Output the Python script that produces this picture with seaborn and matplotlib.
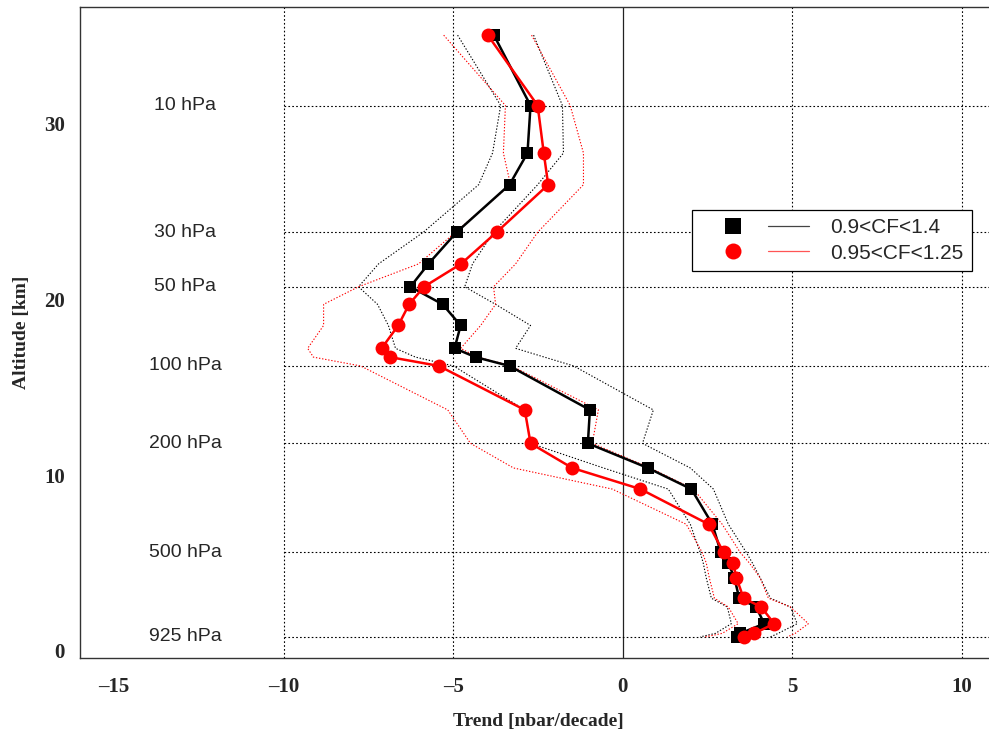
import matplotlib
matplotlib.use("Agg")
import matplotlib.pyplot as plt
import pandas as pd
import seaborn as sns
from matplotlib.lines import Line2D

# Altitude levels of the profile [km]
altitude = [35.0, 31.0, 28.3, 26.5, 23.8, 22.0, 20.7, 19.7, 18.5, 17.2, 16.7, 16.2,
            13.7, 11.8, 10.4, 9.2, 7.2, 5.6, 5.0, 4.15, 3.0, 2.5, 1.55, 1.0, 0.8]

# Trend profile and confidence envelope, 0.9<CF<1.4
trend_cf14 = [-3.80, -2.72, -2.81, -3.34, -4.90, -5.73, -6.26, -5.31, -4.78, -4.96, -4.34, -3.34,
              -0.97, -1.03, 0.74, 2.02, 2.64, 2.89, 3.11, 3.29, 3.43, 3.93, 4.17, 3.46, 3.37]
low_cf14 = [-4.87, -3.60, -3.84, -4.25, -5.88, -7.20, -7.79, -7.23, -6.91, -6.70, -6.11, -4.99,
            -2.89, -2.72, -0.57, 1.34, 1.99, 2.28, 2.37, 2.46, 2.61, 3.08, 3.20, 2.73, 2.28]
high_cf14 = [-2.63, -1.78, -1.75, -2.51, -3.81, -4.43, -4.66, -3.75, -2.72, -3.16, -2.31, -1.45,
             0.90, 0.58, 1.99, 2.67, 3.11, 3.64, 3.82, 4.05, 4.35, 4.94, 5.14, 4.58, 4.35]

# Trend profile and confidence envelope, 0.95<CF<1.25
trend_cf125 = [-3.98, -2.51, -2.33, -2.20, -3.72, -4.77, -5.86, -6.30, -6.62, -7.11, -6.86, -5.42,
               -2.89, -2.72, -1.49, 0.52, 2.53, 2.97, 3.25, 3.35, 3.56, 4.08, 4.46, 3.88, 3.58]
low_cf125 = [-5.28, -3.46, -3.52, -3.31, -4.93, -6.02, -7.79, -8.82, -8.82, -9.29, -9.12, -7.73,
             -5.16, -4.49, -3.22, -0.31, 1.87, 2.34, 2.46, 2.55, 2.70, 3.11, 3.40, 2.93, 2.43]
high_cf125 = [-2.69, -1.55, -1.16, -1.16, -2.51, -3.16, -3.81, -3.75, -4.19, -4.78, -4.28, -3.28,
              -0.72, -0.90, 0.81, 2.08, 2.93, 3.46, 3.73, 4.05, 4.29, 4.94, 5.47, 5.08, 4.85]

# Reference pressure levels
pressure_alt = [31.0, 23.8, 20.7, 16.2, 11.8, 5.6, 0.8]
pressure_lab = ["10 hPa", "30 hPa", "50 hPa", "100 hPa", "200 hPa", "500 hPa", "925 hPa"]

x_ticks = [-15, -10, -5, 0, 5, 10]
y_ticks = [0, 10, 20, 30]
grid_x = [-10, -5, 5, 10]
series_labels = ["0.9<CF<1.4", "0.95<CF<1.25"]


class MarkerThenLine:
    """Legend handle: a marker on the left, a short line segment on the right."""

    def __init__(self, marker_pos=0.30, line_start=0.63):
        self.marker_pos = marker_pos
        self.line_start = line_start

    def legend_artist(self, legend, orig_handle, fontsize, handlebox):
        mk, ln = orig_handle
        x0, y0 = -handlebox.xdescent, -handlebox.ydescent
        w, h = handlebox.width, handlebox.height
        yc = y0 + h / 2
        m = Line2D([x0 + self.marker_pos * w], [yc], ls="none", marker=mk.get_marker(),
                   ms=mk.get_markersize(), color=mk.get_color(), mew=0)
        seg = Line2D([x0 + self.line_start * w, x0 + w], [yc, yc],
                     color=ln.get_color(), lw=ln.get_linewidth())
        for a in (seg, m):
            a.set_transform(handlebox.get_transform())
            handlebox.add_artist(a)
        return m


sns.set_style("white")
plt.rcParams["font.family"] = ["Liberation Sans", "DejaVu Sans"]

df14 = pd.DataFrame({"trend": trend_cf14, "low": low_cf14, "high": high_cf14, "alt": altitude})
df125 = pd.DataFrame({"trend": trend_cf125, "low": low_cf125, "high": high_cf125, "alt": altitude})

W, H = 989, 731
fig = plt.figure(figsize=(W / 100, H / 100), dpi=100)
ax = fig.add_axes([80 / W, 1 - 658 / H, 916 / W, 651 / H])
ax.set_xlim(-16, 11)
ax.set_ylim(-0.4, 36.6)

# Vertical guides and zero line
for gx in grid_x:
    ax.axvline(gx, color="black", lw=0.8, ls=(0, (1.5, 2)), zorder=1)
ax.axvline(0, color="#222222", lw=0.9, zorder=1)

# Pressure level guides and labels
for pa, pl in zip(pressure_alt, pressure_lab):
    ax.hlines(pa, -10, 11, color="black", lw=0.8, linestyles=[(0, (1.5, 2))], zorder=1)
    ax.text(-12.9, pa, pl, ha="center", va="center", fontsize=14,
            family=["Liberation Sans", "DejaVu Sans"])

# Confidence envelopes
dot = (0, (1.2, 1.6))
for df, col in [(df14, "black"), (df125, "red")]:
    for c in ["low", "high"]:
        sns.lineplot(data=df, x=c, y="alt", sort=False, estimator=None, ax=ax,
                     color=col, lw=0.8, ls=dot, zorder=2)

# Trend profiles
sns.lineplot(data=df14, x="trend", y="alt", sort=False, estimator=None, ax=ax,
             color="black", lw=1.8, marker="s", markersize=9, markeredgewidth=0, zorder=3)
sns.lineplot(data=df125, x="trend", y="alt", sort=False, estimator=None, ax=ax,
             color="red", lw=1.8, marker="o", markersize=10, markeredgewidth=0, zorder=4)

# Axes styling
for s in ax.spines.values():
    s.set_color("#333333")
    s.set_linewidth(1.0)
ax.set_xticks(x_ticks)
ax.set_yticks(y_ticks)
ax.set_xticklabels([f"{v}".replace("-", "\u2013") for v in x_ticks])
ax.tick_params(axis="both", direction="out", length=5, width=0.9, color="#333333",
               labelsize=15)
ax.tick_params(axis="x", pad=9)
ax.tick_params(axis="y", pad=6)
for lab in ax.get_xticklabels() + ax.get_yticklabels():
    lab.set_family(["Liberation Serif", "DejaVu Serif"])
    lab.set_fontweight("bold")
ax.set_xlabel("Trend [nbar/decade]", family=["Liberation Serif"], fontweight="bold",
              fontsize=14, labelpad=11)
ax.set_ylabel("Altitude [km]", family=["Liberation Serif"], fontweight="bold",
              fontsize=14, labelpad=10)

# Legend: marker column and line column per entry
handles = [
    (Line2D([], [], marker="s", color="black", ls="none", ms=11),
     Line2D([], [], color="#444444", lw=0.9)),
    (Line2D([], [], marker="o", color="red", ls="none", ms=11.5),
     Line2D([], [], color="#ff5555", lw=0.9)),
]
leg = ax.legend(handles, series_labels, handler_map={tuple: MarkerThenLine()},
                loc="upper left", bbox_to_anchor=(0.668, 0.688),
                handlelength=5.2, handletextpad=1.05, labelspacing=0.3,
                borderpad=0.4, borderaxespad=0, fancybox=False, framealpha=1,
                edgecolor="black", prop={"family": ["Liberation Sans"], "size": 15})
leg.get_frame().set_linewidth(0.9)

fig.savefig("out.png", dpi=100)
